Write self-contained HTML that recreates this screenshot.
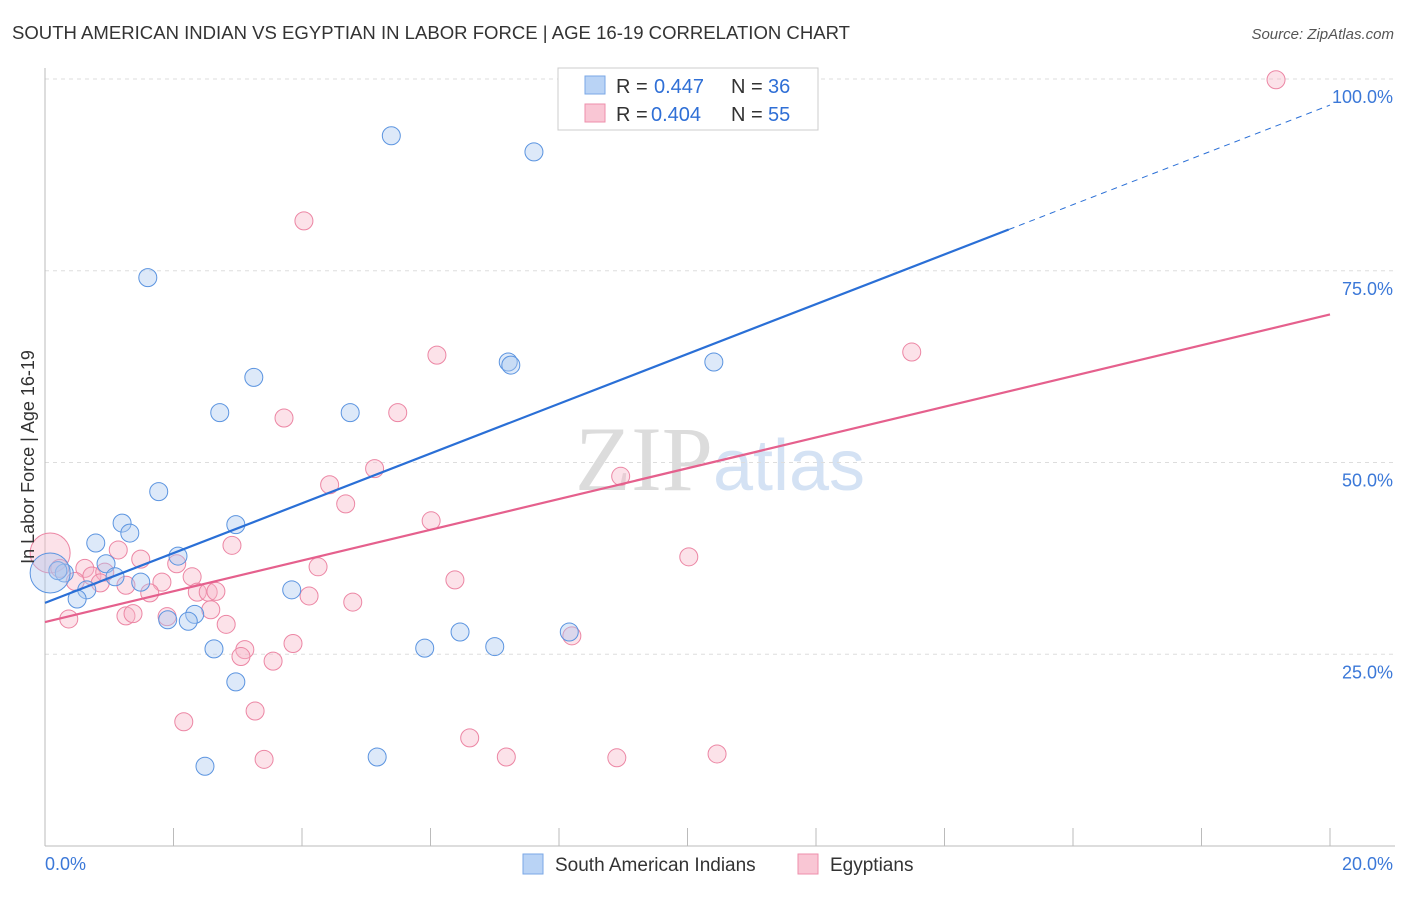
<!DOCTYPE html>
<html><head><meta charset="utf-8"><style>
body{margin:0;background:#fff;font-family:"Liberation Sans",sans-serif;}
svg text{font-family:"Liberation Sans",sans-serif;}
</style></head><body>
<svg id="chart" width="1406" height="892" xmlns="http://www.w3.org/2000/svg">
<text x="12" y="39" font-size="18" fill="#333" textLength="838" lengthAdjust="spacingAndGlyphs">SOUTH AMERICAN INDIAN VS EGYPTIAN IN LABOR FORCE | AGE 16-19 CORRELATION CHART</text>
<text x="1394" y="39" font-size="15" fill="#555" text-anchor="end" font-style="italic">Source: ZipAtlas.com</text>
<text x="720" y="490" font-size="92" text-anchor="middle" fill="#e4e4e4"><tspan font-family="Liberation Serif" fill="#dcdcdc">ZIP</tspan><tspan fill="#d4e2f4" font-size="72">atlas</tspan></text>
<g id="grid"></g>
<g id="axes"></g>
<g id="marks"></g>
<text transform="translate(34,457) rotate(-90)" font-size="18" fill="#333" text-anchor="middle">In Labor Force | Age 16-19</text>
<g>
<rect x="558" y="68" width="260" height="62" fill="#fff" stroke="#ccc"/>
<rect x="585" y="76" width="20" height="18" fill="#b9d3f5" stroke="#7aa7e6"/>
<text x="616" y="93" font-size="20" fill="#333">R =</text>
<text x="654" y="93" font-size="20" fill="#2f6fd6">0.447</text>
<text x="731" y="93" font-size="20" fill="#333">N =</text>
<text x="768" y="93" font-size="20" fill="#2f6fd6">36</text>
<rect x="585" y="104" width="20" height="18" fill="#f9c6d4" stroke="#ee8fab"/>
<text x="616" y="121" font-size="20" fill="#333">R =</text>
<text x="651" y="121" font-size="20" fill="#2f6fd6">0.404</text>
<text x="731" y="121" font-size="20" fill="#333">N =</text>
<text x="768" y="121" font-size="20" fill="#2f6fd6">55</text>
</g>
<g>
<rect x="523" y="854" width="20" height="20" fill="#b9d3f5" stroke="#7aa7e6"/>
<text x="555" y="871" font-size="19" fill="#333">South American Indians</text>
<rect x="798" y="854" width="20" height="20" fill="#f9c6d4" stroke="#ee8fab"/>
<text x="830" y="871" font-size="19" fill="#333">Egyptians</text>
</g>
</svg>
<script>
const yTicks=[25,50,75,100];
const yTickLabels=["25.0%","50.0%","75.0%","100.0%"];
const xTickCount=10;
const blueXs=[5.39,7.61,1.60,3.25,7.21,7.25,10.41,2.72,4.75,1.77,1.20,1.32,2.97,0.79,2.07,0.95,1.09,1.49,0.30,0.20,0.65,0.50,3.84,2.33,1.91,2.23,2.63,2.97,6.46,5.91,7.00,8.16,2.49,5.17,8.44,10.88,0.08];
const blueYs=[92.6,90.5,74.1,61.1,63.1,62.7,63.1,56.5,56.5,46.2,42.1,40.8,41.9,39.5,37.8,36.8,35.1,34.4,35.6,35.9,33.4,32.2,33.4,30.2,29.5,29.3,25.7,21.4,27.9,25.8,26.0,27.9,10.4,11.6,99.9,99.9,35.6];
const pinkXs=[19.16,4.03,6.10,13.49,3.72,5.49,5.13,8.96,4.43,4.68,6.01,2.91,10.02,1.14,1.49,2.05,4.25,0.62,0.73,0.93,1.82,2.29,0.86,6.38,1.26,1.63,2.37,2.54,2.66,4.11,4.79,2.58,1.90,1.26,1.37,0.37,2.82,3.11,3.05,3.86,3.55,8.20,3.27,2.16,6.61,3.41,7.18,8.90,10.46,0.08,0.23,0.47];
const pinkYs=[99.9,81.5,64.0,64.4,55.8,56.5,49.2,48.2,47.1,44.6,42.4,39.2,37.7,38.6,37.4,36.8,36.4,36.2,35.2,35.7,34.4,35.1,34.3,34.7,34.0,33.0,33.1,33.1,33.2,32.6,31.8,30.8,29.9,30.0,30.3,29.6,28.9,25.6,24.7,26.4,24.1,27.4,17.6,16.2,14.1,11.3,11.6,11.5,12.0,38.2,36.2,34.5];
const blueLine=[31.7,96.6];
const pinkLine=[29.2,69.3];
const blueSolidEnd=15.0;
const X0=45,X1=1330,Y0=846,Y100=79;
const sx=v=>X0+(X1-X0)*v/20, sy=v=>Y0-(Y0-Y100)*v/100;
const NS="http://www.w3.org/2000/svg";
function mk(tag,attrs,parent){const e=document.createElementNS(NS,tag);for(const k in attrs)e.setAttribute(k,attrs[k]);parent.appendChild(e);return e;}
const grid=document.getElementById('grid'),axes=document.getElementById('axes'),marks=document.getElementById('marks');
yTicks.forEach((t,i)=>{
 const g=mk('line',{x1:X0,x2:1395,y1:sy(t),y2:sy(t),stroke:'#ddd','stroke-dasharray':'4,4'},grid);
 
 
 const l=mk('text',{x:1393,y:sy(t)+24,'font-size':18,fill:'#3b78d8','text-anchor':'end'},axes);
 l.textContent=yTickLabels[i];
 
 
});
const ya=mk('line',{x1:X0,x2:X0,y1:68,y2:Y0,stroke:'#bbb'},axes);


const xa=mk('line',{x1:X0,x2:1395,y1:Y0,y2:Y0,stroke:'#bbb'},axes);


for(let i=0;i<=xTickCount;i++){const t=mk('line',{x1:sx(i*2),x2:sx(i*2),y1:828,y2:Y0,stroke:'#bbb'},axes);
 
 }
const xl0=mk('text',{x:45,y:870,'font-size':18,fill:'#3b78d8'},axes);xl0.textContent='0.0%';


const xl1=mk('text',{x:1393,y:870,'font-size':18,fill:'#3b78d8','text-anchor':'end'},axes);xl1.textContent='20.0%';


function pts(xs,ys,fill,stroke,name,bigIdx){xs.forEach((x,i)=>{const big=i===bigIdx;
 const c=mk('circle',{cx:sx(x),cy:sy(ys[i]),r:big?20:9,fill:fill,'fill-opacity':0.4,stroke:stroke,'stroke-width':1},marks);
 
 });}
pts(pinkXs,pinkYs,'#f7b6c9','#ec86a4','pink-point',49);
pts(blueXs,blueYs,'#a9c8f0','#5b94e0','blue-point',36);
const bl=(x)=>blueLine[0]+(blueLine[1]-blueLine[0])*x/20;
const l1=mk('line',{x1:sx(0),y1:sy(bl(0)),x2:sx(blueSolidEnd),y2:sy(bl(blueSolidEnd)),stroke:'#2a6fd6','stroke-width':2.2},marks);


const l2=mk('line',{x1:sx(blueSolidEnd),y1:sy(bl(blueSolidEnd)),x2:sx(20),y2:sy(bl(20)),stroke:'#2a6fd6','stroke-width':1,'stroke-dasharray':'6,5'},marks);


const l3=mk('line',{x1:sx(0),y1:sy(pinkLine[0]),x2:sx(20),y2:sy(pinkLine[1]),stroke:'#e5608d','stroke-width':2.2},marks);


</script>
</body></html>
